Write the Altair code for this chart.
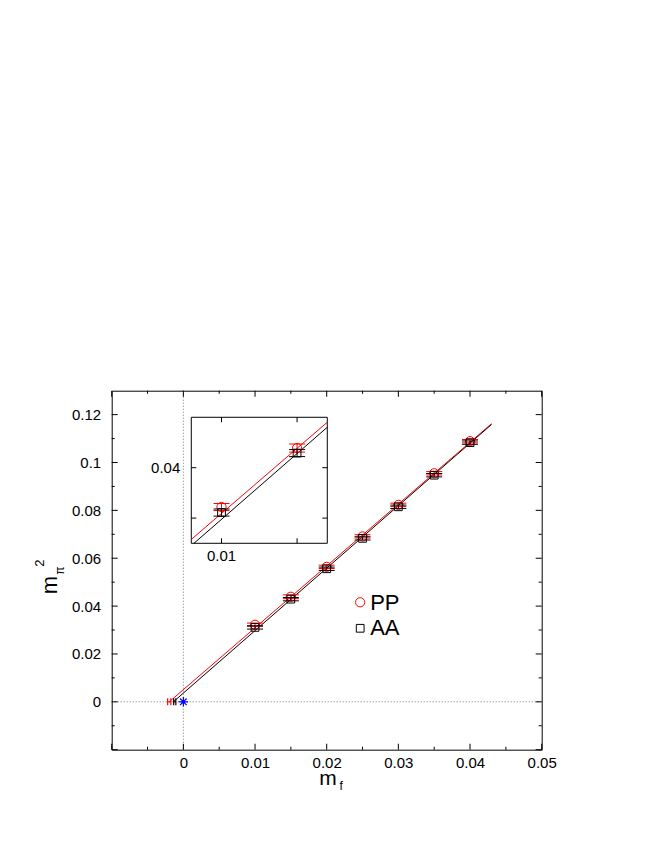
import altair as alt
import pandas as pd

FONT = "Liberation Sans"
W, H = 430, 359

# ---- data ----
mf = [0.010, 0.015, 0.020, 0.025, 0.030, 0.035, 0.040]
pp = [0.0322, 0.0439, 0.0564, 0.0691, 0.0823, 0.0955, 0.1089]
pp_err = [0.0007, 0.0008, 0.0007, 0.0007, 0.0007, 0.0007, 0.0007]
aa = [0.0311, 0.0429, 0.0556, 0.0683, 0.0815, 0.0947, 0.1083]
aa_err = [0.0007, 0.0007, 0.0007, 0.0007, 0.0007, 0.0007, 0.0007]

# chiral-limit (m_pi^2 = 0) points with horizontal errors
chiral_mf = [-0.00197, -0.0012]
chiral_err = [0.00022, 0.00015]
chiral_series = ["PP", "AA"]

# linear fits: x-intercept and slope
fit_x0 = {"PP": -0.00197, "AA": -0.0014}
fit_slope = {"PP": 2.584, "AA": 2.61}
fit_x_end = 0.043

x_domain = [-0.01, 0.05]
y_domain = [-0.02, 0.13]
x_major = [-0.01, 0.0, 0.01, 0.02, 0.03, 0.04, 0.05]
x_minor = [-0.005, 0.005, 0.015, 0.025, 0.035, 0.045]
x_labels = [0, 0.01, 0.02, 0.03, 0.04, 0.05]
y_major = [-0.02, 0.0, 0.02, 0.04, 0.06, 0.08, 0.1, 0.12]
y_minor = [-0.01, 0.01, 0.03, 0.05, 0.07, 0.09, 0.11]
y_labels = [0, 0.02, 0.04, 0.06, 0.08, 0.1, 0.12]

inset_x_domain = [0.008, 0.017]
inset_y_domain = [0.025, 0.05]
inset_x_ticks = [0.01, 0.015]
inset_y_ticks = [0.03, 0.04]
inset_x_labels = ["0.01"]
inset_x_label_vals = [0.01]
inset_y_labels = ["0.04"]
inset_y_label_vals = [0.04]

legend_labels = ["PP", "AA"]

# ---- tables ----
pts = pd.DataFrame({"mf": mf, "pp": pp, "aa": aa})
pts["pp_lo"] = pts.pp - pd.Series(pp_err)
pts["pp_hi"] = pts.pp + pd.Series(pp_err)
pts["aa_lo"] = pts.aa - pd.Series(aa_err)
pts["aa_hi"] = pts.aa + pd.Series(aa_err)

chi = pd.DataFrame({"s": chiral_series, "x": chiral_mf, "e": chiral_err, "y": [0.0, 0.0]})
chi["lo"] = chi.x - chi.e
chi["hi"] = chi.x + chi.e


def fit_df(name, xlo, xhi, ylo=None, yhi=None):
    x0, s = fit_x0[name], fit_slope[name]
    a, b = xlo, xhi
    if ylo is not None:
        a = max(a, x0 + ylo / s)
        b = min(b, x0 + yhi / s)
    return pd.DataFrame({"x": [a, b], "y": [s * (a - x0), s * (b - x0)]})


xs = alt.Scale(domain=x_domain, nice=False, zero=False)
ys = alt.Scale(domain=y_domain, nice=False, zero=False)
ixs = alt.Scale(domain=inset_x_domain, range=[79.6, 215.6], nice=False, zero=False)
iys = alt.Scale(domain=inset_y_domain, range=[152.6, 26.6], nice=False, zero=False)

x_axis = alt.Axis(values=x_labels, format="~g", title=None, ticks=False, tickSize=0,
                  domain=False, grid=False, labelFont=FONT, labelFontSize=15,
                  labelColor="black", labelPadding=6, labelFlush=False, labelOverlap=False)
y_axis = alt.Axis(values=y_labels, format="~g", title=None, ticks=False, tickSize=0,
                  domain=False, grid=False, labelFont=FONT, labelFontSize=15,
                  labelColor="black", labelPadding=11, labelFlush=False, labelOverlap=False)


def MX(f):
    return alt.X(f, type="quantitative", scale=xs, axis=x_axis)


def MY(f):
    return alt.Y(f, type="quantitative", scale=ys, axis=y_axis)


def IX(f):
    return alt.X(f, type="quantitative", scale=ixs, axis=None)


def IY(f):
    return alt.Y(f, type="quantitative", scale=iys, axis=None)


def series_layers(X, Y, data, cap):
    layers = []
    for name, col, color, shape, size in [("PP", "pp", "red", "circle", 85),
                                          ("AA", "aa", "black", "square", 60)]:
        layers.append(alt.Chart(data).mark_rule(color=color, strokeWidth=1).encode(
            x=X("mf"), y=Y(col + "_lo"), y2=alt.Y2(col + "_hi")))
        for end in ["_lo", "_hi"]:
            layers.append(alt.Chart(data).mark_tick(
                orient="horizontal", size=cap, thickness=1, color=color, opacity=1).encode(
                x=X("mf"), y=Y(col + end)))
        layers.append(alt.Chart(data).mark_point(
            shape=shape, size=size, filled=False, color=color, strokeWidth=1, opacity=1).encode(
            x=X("mf"), y=Y(col)))
    return layers


# ---- main panel ----
main_layers = []
main_layers.append(alt.Chart(pd.DataFrame({"v": [0.0]})).mark_rule(
    color="#777777", strokeDash=[1, 2], strokeWidth=1).encode(x=MX("v")))
main_layers.append(alt.Chart(pd.DataFrame({"v": [0.0]})).mark_rule(
    color="#777777", strokeDash=[1, 2], strokeWidth=1).encode(y=MY("v")))
for name, color in [("PP", "red"), ("AA", "black")]:
    main_layers.append(alt.Chart(fit_df(name, fit_x0[name], fit_x_end)).mark_line(
        color=color, strokeWidth=1).encode(x=MX("x"), y=MY("y")))
main_layers += series_layers(MX, MY, pts, 16)

for name, color in [("PP", "red"), ("AA", "black")]:
    d = chi[chi.s == name]
    main_layers.append(alt.Chart(d).mark_rule(color=color, strokeWidth=1).encode(
        x=MX("lo"), x2=alt.X2("hi"), y=MY("y")))
    for end in ["lo", "hi"]:
        main_layers.append(alt.Chart(d).mark_tick(
            orient="vertical", size=7, thickness=1.2, color=color, opacity=1).encode(
            x=MX(end), y=MY("y")))

star = "M-1,0L1,0M0,-1L0,1M-0.7,-0.7L0.7,0.7M-0.7,0.7L0.7,-0.7"
main_layers.append(alt.Chart(pd.DataFrame({"x": [0.0], "y": [0.0]})).mark_point(
    shape=star, size=90, filled=False, color="blue", strokeWidth=1.2, opacity=1).encode(
    x=MX("x"), y=MY("y")))

# frame ticks (inward)
for vals, size in [(x_major, 6), (x_minor, 3)]:
    d = pd.DataFrame({"v": vals, "b": y_domain[0], "t": y_domain[1]})
    main_layers.append(alt.Chart(d).mark_tick(
        orient="vertical", size=size, thickness=1, color="black", opacity=1,
        yOffset=-size / 2).encode(x=MX("v"), y=MY("b")))
    main_layers.append(alt.Chart(d).mark_tick(
        orient="vertical", size=size, thickness=1, color="black", opacity=1,
        yOffset=size / 2).encode(x=MX("v"), y=MY("t")))
for vals, size in [(y_major, 6), (y_minor, 3)]:
    d = pd.DataFrame({"v": vals, "l": x_domain[0], "r": x_domain[1]})
    main_layers.append(alt.Chart(d).mark_tick(
        orient="horizontal", size=size, thickness=1, color="black", opacity=1,
        xOffset=size / 2).encode(y=MY("v"), x=MX("l")))
    main_layers.append(alt.Chart(d).mark_tick(
        orient="horizontal", size=size, thickness=1, color="black", opacity=1,
        xOffset=-size / 2).encode(y=MY("v"), x=MX("r")))

# legend
leg = pd.DataFrame({"label": legend_labels})
main_layers.append(alt.Chart(leg.iloc[[0]]).mark_point(
    shape="circle", size=85, filled=False, color="red", strokeWidth=1, opacity=1).encode(
    x=alt.value(248.5), y=alt.value(211.6)))
main_layers.append(alt.Chart(leg.iloc[[1]]).mark_point(
    shape="square", size=60, filled=False, color="black", strokeWidth=1, opacity=1).encode(
    x=alt.value(248.5), y=alt.value(237.6)))
main_layers.append(alt.Chart(leg.iloc[[0]]).mark_text(
    align="left", baseline="alphabetic", font=FONT, fontSize=22, color="black").encode(
    x=alt.value(258.5), y=alt.value(219.5), text="label:N"))
main_layers.append(alt.Chart(leg.iloc[[1]]).mark_text(
    align="left", baseline="alphabetic", font=FONT, fontSize=22, color="black").encode(
    x=alt.value(258.5), y=alt.value(244.0), text="label:N"))

# axis titles with sub/superscripts
def txt(s, x, y, size, angle=0, align="center", baseline="middle"):
    return alt.Chart(pd.DataFrame({"t": [s]})).mark_text(
        font=FONT, fontSize=size, color="black", angle=angle, align=align,
        baseline=baseline).encode(x=alt.value(x), y=alt.value(y), text="t:N")

main_layers.append(txt("m", 216.3, 394.5, 21, baseline="alphabetic"))
main_layers.append(txt("f", 227.8, 399.0, 12, align="left", baseline="alphabetic"))
main_layers.append(txt("m", -62.0, 194.3, 22, angle=270))
main_layers.append(txt("π", -52.0, 180.0, 12, angle=270))
main_layers.append(txt("2", -72.0, 172.5, 13, angle=270))

main = alt.layer(*main_layers)

# ---- inset panel ----
inset_layers = []
frame = pd.DataFrame({"x": [inset_x_domain[0]], "x2": [inset_x_domain[1]],
                      "y": [inset_y_domain[0]], "y2": [inset_y_domain[1]]})
inset_layers.append(alt.Chart(frame).mark_rect(
    fill="white", stroke="black", strokeWidth=1).encode(
    x=IX("x"), x2=alt.X2("x2"), y=IY("y"), y2=alt.Y2("y2")))
for name, color in [("PP", "red"), ("AA", "black")]:
    inset_layers.append(alt.Chart(fit_df(name, inset_x_domain[0], inset_x_domain[1],
                                         inset_y_domain[0], inset_y_domain[1])).mark_line(
        color=color, strokeWidth=1).encode(x=IX("x"), y=IY("y")))
ipts = pts[(pts.mf >= inset_x_domain[0]) & (pts.mf <= inset_x_domain[1])]
inset_layers += series_layers(IX, IY, ipts, 16)

d = pd.DataFrame({"v": inset_x_ticks, "b": inset_y_domain[0], "t": inset_y_domain[1]})
inset_layers.append(alt.Chart(d).mark_tick(
    orient="vertical", size=5, thickness=1, color="black", opacity=1, yOffset=-2.5).encode(
    x=IX("v"), y=IY("b")))
inset_layers.append(alt.Chart(d).mark_tick(
    orient="vertical", size=5, thickness=1, color="black", opacity=1, yOffset=2.5).encode(
    x=IX("v"), y=IY("t")))
d = pd.DataFrame({"v": inset_y_ticks, "l": inset_x_domain[0], "r": inset_x_domain[1]})
inset_layers.append(alt.Chart(d).mark_tick(
    orient="horizontal", size=5, thickness=1, color="black", opacity=1, xOffset=2.5).encode(
    y=IY("v"), x=IX("l")))
inset_layers.append(alt.Chart(d).mark_tick(
    orient="horizontal", size=5, thickness=1, color="black", opacity=1, xOffset=-2.5).encode(
    y=IY("v"), x=IX("r")))

dl = pd.DataFrame({"t": inset_x_labels, "v": inset_x_label_vals, "b": inset_y_domain[0]})
inset_layers.append(alt.Chart(dl).mark_text(
    font=FONT, fontSize=15, color="black", align="center", baseline="top", dy=6).encode(
    x=IX("v"), y=IY("b"), text="t:N"))
dl = pd.DataFrame({"t": inset_y_labels, "v": inset_y_label_vals, "l": inset_x_domain[0]})
inset_layers.append(alt.Chart(dl).mark_text(
    font=FONT, fontSize=15, color="black", align="right", baseline="middle", dx=-11).encode(
    x=IX("l"), y=IY("v"), text="t:N"))

inset = alt.layer(*inset_layers)

chart = alt.layer(main, inset).resolve_scale(
    x="independent", y="independent"
).properties(
    width=W, height=H,
    padding={"left": 103.7, "top": 382.7, "right": 100, "bottom": 80},
    autosize=alt.AutoSizeParams(type="none"),
).configure_view(stroke="black", strokeWidth=1).configure_axis(grid=False)

chart.save("out.html", embed_options={"renderer": "svg", "actions": False})
